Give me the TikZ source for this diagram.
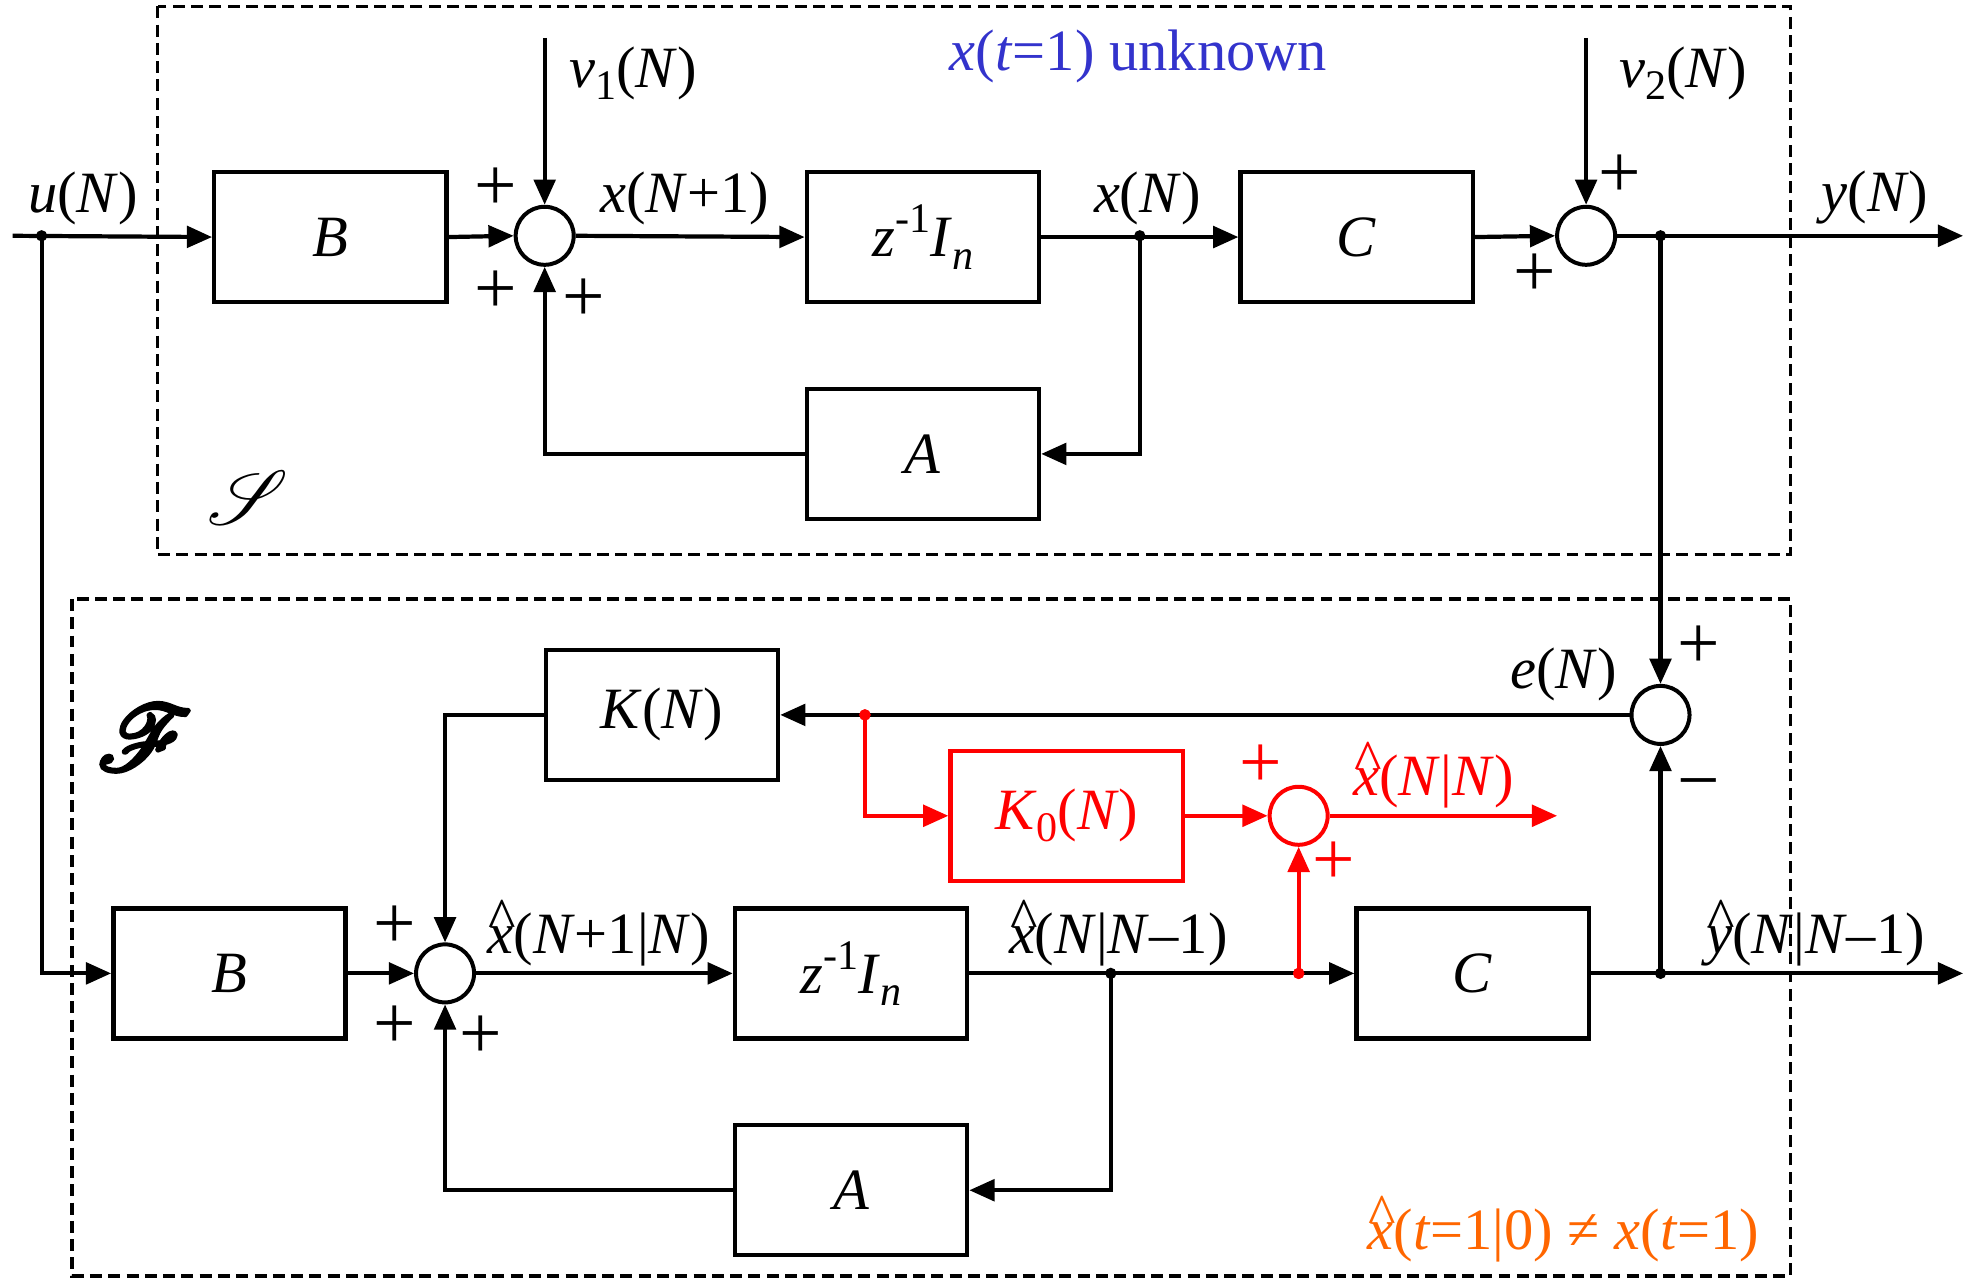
\documentclass[tikz,border=0pt]{standalone}
\usepackage{fontspec}
\usepackage{amsmath}
\usepackage{mathrsfs}
\setmainfont{Liberation Serif}
\usetikzlibrary{arrows.meta}
\definecolor{myblue}{RGB}{51,51,204}
\definecolor{myorange}{RGB}{255,102,0}
\newcommand{\I}[1]{\textit{#1}}
\newcommand{\sbs}[1]{\raisebox{-0.45ex}{\fontsize{9.5}{10}\selectfont #1}}
\newcommand{\sps}[1]{\raisebox{0.9ex}{\fontsize{9.5}{10}\selectfont #1}}
\newcommand{\hatover}[1]{\leavevmode\rlap{\hspace{0.02em}\raisebox{0.26em}{\textasciicircum}}\I{#1}}
\newcommand{\hatx}{\hatover{x}}
\newcommand{\haty}{\hatover{y}}
\newcommand{\bigplus}{{\fontsize{17}{18}\selectfont +}}
\begin{document}
\begin{tikzpicture}[x=0.01cm,y=-0.01cm,
  font=\fontsize{13.2}{15}\selectfont,
  blk/.style={draw,line width=1pt,minimum width=1.84cm,minimum height=1.03cm,inner sep=0pt},
  sumc/.style={draw,circle,line width=0.9pt,minimum size=0.46cm,inner sep=0pt},
  ln/.style={line width=0.95pt},
  arr/.style={ln,-{Triangle[length=0.2cm,width=0.17cm]}},
  dbox/.style={line width=0.75pt,dash pattern=on 0.095cm off 0.05cm},
  lbl/.style={inner sep=0pt},
  dotc/.style={circle,fill,inner sep=0pt,minimum size=0.09cm}]
\useasboundingbox (0,0) rectangle (1568,1014);

% dashed frames
\draw[dbox] (125,5) rectangle (1420,440);
\draw[dbox] (57,475) rectangle (1420,1012);

% ---------- top system ----------
\node[blk] (B1) at (262,188) {\I{B}};
\node[sumc] (s1) at (432,187) {};
\node[blk] (Z1) at (732,188) {\I{z}\sps{-1}\I{I}\sbs{\I{n}}};
\node[blk] (C1) at (1076,188) {\I{C}};
\node[sumc] (s2) at (1258,187) {};
\node[blk] (A1) at (732,360) {\I{A}};

\coordinate (uin) at (10,187);
\node[dotc] (du) at (33,187) {};
\coordinate (v1) at (432,30);
\coordinate (v2) at (1258,30);
\node[dotc] (dx1) at (904,187) {};
\node[dotc] (dy) at (1317,187) {};
\coordinate (yout) at (1557,187);

\draw[arr] (uin) -- (B1.west);
\draw[arr] (B1.east) -- (s1.west);
\draw[arr] (v1) -- (s1.north);
\draw[arr] (s1.east) -- (Z1.west);
\draw[arr] (Z1.east) -- (C1.west);
\draw[arr] (C1.east) -- (s2.west);
\draw[arr] (v2) -- (s2.north);
\draw[arr] (s2.east) -- (yout);
\draw[arr] (dx1.center) |- (A1.east);
\draw[arr] (A1.west) -| (s1.south);

\node[lbl] (lu) at (66,157) {\I{u}(\I{N})};
\node[lbl] (lv1) at (502,58) {\I{v}\sbs{1}(\I{N})};
\node[lbl] (lx1) at (543,157) {\I{x}(\I{N}+1)};
\node[lbl] (lx) at (910,157) {\I{x}(\I{N})};
\node[lbl] (lv2) at (1335,58) {\I{v}\sbs{2}(\I{N})};
\node[lbl] (ly) at (1487,157) {\I{y}(\I{N})};
\node[lbl,text=myblue] (lunk) at (903,45) {\I{x}(\I{t}=1) unknown};
\node[lbl] (p1) at (393,150) {\bigplus};
\node[lbl] (p2) at (393,232) {\bigplus};
\node[lbl] (p3) at (463,238) {\bigplus};
\node[lbl] (p4) at (1285,140) {\bigplus};
\node[lbl] (p5) at (1217,218) {\bigplus};
\node[lbl] (lS) at (197,395) {\fontsize{17}{18}\selectfont$\mathscr{S}$};

% ---------- bottom filter ----------
\node[sumc] (se) at (1317,567) {};
\node[blk] (K) at (525,567) {\I{K}(\I{N})};
\node[blk,draw=red,text=red] (K0) at (846,647) {\I{K}\sbs{0}(\I{N})};
\node[sumc,draw=red] (sr) at (1030,647) {};
\node[blk] (B2) at (182,772) {\I{B}};
\node[sumc] (s3) at (353,772) {};
\node[blk] (Z2) at (675,772) {\I{z}\sps{-1}\I{I}\sbs{\I{n}}};
\node[blk] (C2) at (1168,772) {\I{C}};
\node[blk] (A2) at (675,944) {\I{A}};

\node[dotc] (dxh) at (881,772) {};
\node[dotc] (dyh) at (1317,772) {};
\coordinate (yhout) at (1557,772);
\coordinate (xout) at (1235,647);

\draw[arr] (dy.center) -- (se.north);
\draw[arr] (se.west) -- (K.east);
\draw[arr] (K.west) -| (s3.north);
\draw[arr] (du.center) |- (B2.west);
\draw[arr] (B2.east) -- (s3.west);
\draw[arr] (s3.east) -- (Z2.west);
\draw[arr] (Z2.east) -- (C2.west);
\draw[arr] (C2.east) -- (yhout);
\draw[arr] (dyh.center) -- (se.south);
\draw[arr] (dxh.center) |- (A2.east);
\draw[arr] (A2.west) -| (s3.south);

% red branch
\node[dotc,red] (rd) at (686,567) {};
\node[dotc,red] (rd2) at (1030,772) {};
\draw[arr,red] (rd.center) |- (K0.west);
\draw[arr,red] (K0.east) -- (sr.west);
\draw[arr,red] (sr.east) -- (xout);
\draw[arr,red] (rd2.center) -- (sr.south);
\node[dotc,red] at (rd) {};
\node[dotc,red] at (rd2) {};

\node[lbl] (le) at (1240,535) {\I{e}(\I{N})};
\node[lbl] (p6) at (1347,513) {\bigplus};
\node[lbl] (m1) at (1347,628) {\fontsize{17}{18}\selectfont\textminus};
\node[lbl,text=red] (p7) at (1000,608) {\bigplus};
\node[lbl,text=red] (p8) at (1058,685) {\bigplus};
\node[lbl,text=red] (lxnn) at (1137,615) {\hatx(\I{N}|\I{N})};
\node[lbl] (p9) at (313,735) {\bigplus};
\node[lbl] (p10) at (313,815) {\bigplus};
\node[lbl] (p11) at (381,823) {\bigplus};
\node[lbl] (lx2) at (475,740) {\hatx(\I{N}+1|\I{N})};
\node[lbl] (lx3) at (887,740) {\hatx(\I{N}|\I{N}\textendash1)};
\node[lbl] (lyh) at (1440,740) {\haty(\I{N}|\I{N}\textendash1)};
\node[lbl,text=myorange] (lor) at (1240,975) {\hatx(\I{t}=1|0) ≠ \I{x}(\I{t}=1)};
\node[lbl] (lF) at (115,585) {\fontsize{22}{24}\selectfont\special{pdf:literal direct 2 Tr 0.9 w}$\mathscr{F}$\special{pdf:literal direct 0 Tr}};
\end{tikzpicture}
\end{document}
